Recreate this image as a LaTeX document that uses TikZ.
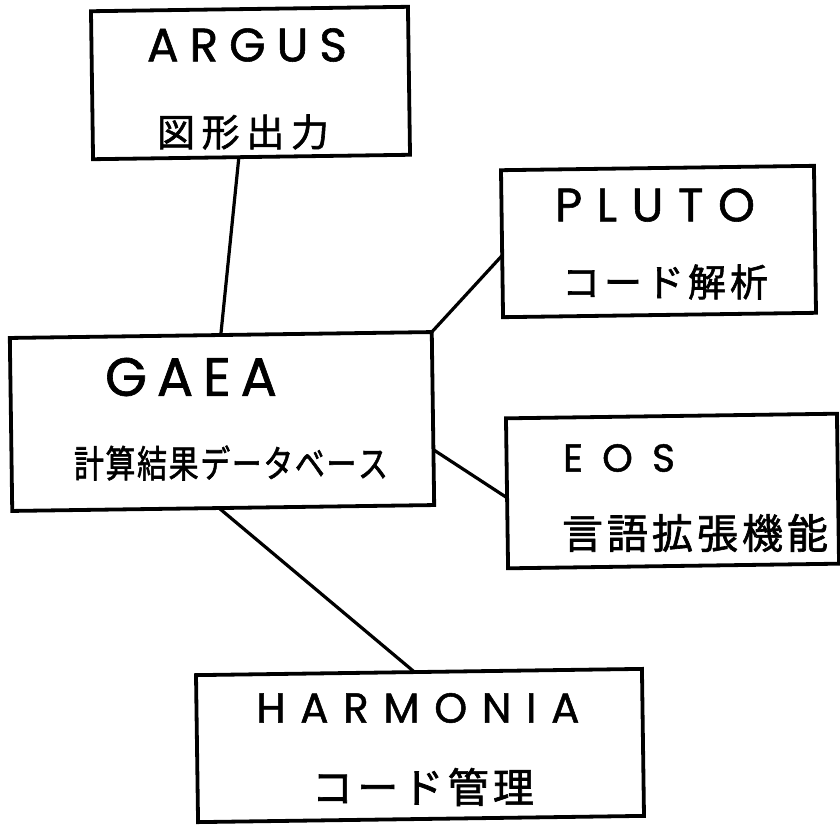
\documentclass[tikz,border=0pt]{standalone}
\usepackage{fontspec}
\usepackage{graphicx}
\newfontfamily\jpfont[FakeBold=1.6]{Noto Sans CJK JP}
\newfontfamily\latfont[FakeBold=1.2]{Poppins}
\usetikzlibrary{calc}
\newcommand\spreadto[2]{\makebox[#1][s]{#2}}
\begin{document}
\begin{tikzpicture}[x=1pt,y=-1pt,
  box/.style={draw=black, line width=3.8pt, rectangle, inner sep=0pt, outer sep=0pt, rotate=0.8},
  link/.style={draw=black, line width=3.2pt, line cap=round},
  latlab/.style={inner sep=0pt, text=black},
  jplab/.style={inner sep=0pt, text=black}]
\useasboundingbox[fill=white] (0,0) rectangle (840,825);

% boxes
\node[box, minimum width=317pt, minimum height=148pt] (argus) at (250.5,83) {};
\node[box, minimum width=313pt, minimum height=147pt] (pluto) at (658.5,241.5) {};
\node[box, minimum width=422pt, minimum height=173pt] (gaea) at (222,421.5) {};
\node[box, minimum width=331pt, minimum height=150pt] (eos) at (672.5,491) {};
\node[box, minimum width=446pt, minimum height=147pt] (harmonia) at (420,745.5) {};

% labels
\node[latlab] (argusname) at (247,45) {\latfont\fontsize{47}{50}\selectfont\spreadto{200pt}{A\hfill R\hfill G\hfill U\hfill S}};
\node[jplab] (argusdesc) at (243,132) {\jpfont\fontsize{38}{40}\selectfont\spreadto{172pt}{図\hfill 形\hfill 出\hfill 力}};

\node[latlab] (plutoname) at (655,205) {\latfont\fontsize{47}{50}\selectfont\spreadto{200pt}{P\hfill L\hfill U\hfill T\hfill O}};
\node[jplab] (plutodesc) at (665,282) {\jpfont\fontsize{38}{40}\selectfont\spreadto{206pt}{コ\hfill ー\hfill ド\hfill 解\hfill 析}};

\node[latlab] (gaeaname) at (191,377) {\latfont\fontsize{54}{58}\selectfont\spreadto{172pt}{G\hfill A\hfill E\hfill A}};
\node[jplab] (gaeadesc) at (231,463) {\scalebox{1}[1.25]{\jpfont\fontsize{30}{34}\selectfont\spreadto{314pt}{計\hfill 算\hfill 結\hfill 果\hfill デ\hfill ー\hfill タ\hfill ベ\hfill ー\hfill ス}}};

\node[latlab] (eosname) at (619,458) {\latfont\fontsize{39}{42}\selectfont\spreadto{112pt}{E\hfill O\hfill S}};
\node[jplab] (eosdesc) at (695,533) {\jpfont\fontsize{41}{44}\selectfont\spreadto{266pt}{言\hfill 語\hfill 拡\hfill 張\hfill 機\hfill 能}};

\node[latlab] (harmonianame) at (418,708) {\latfont\fontsize{42}{46}\selectfont\spreadto{323pt}{H\hfill A\hfill R\hfill M\hfill O\hfill N\hfill I\hfill A}};
\node[jplab] (harmoniadesc) at (423,787) {\jpfont\fontsize{41}{44}\selectfont\spreadto{222pt}{コ\hfill ー\hfill ド\hfill 管\hfill 理}};

% connectors
\draw[link] ($(argus.south west)!0.46!(argus.south east)$) -- (gaea.north);
\draw[link] (gaea.north east) -- ($(pluto.north west)!0.58!(pluto.south west)$);
\draw[link] ($(gaea.north east)!0.68!(gaea.south east)$) -- ($(eos.north west)!0.53!(eos.south west)$);
\draw[link] ($(gaea.south west)!0.49!(gaea.south east)$) -- ($(harmonia.north west)!0.49!(harmonia.north east)$);
\end{tikzpicture}
\end{document}
